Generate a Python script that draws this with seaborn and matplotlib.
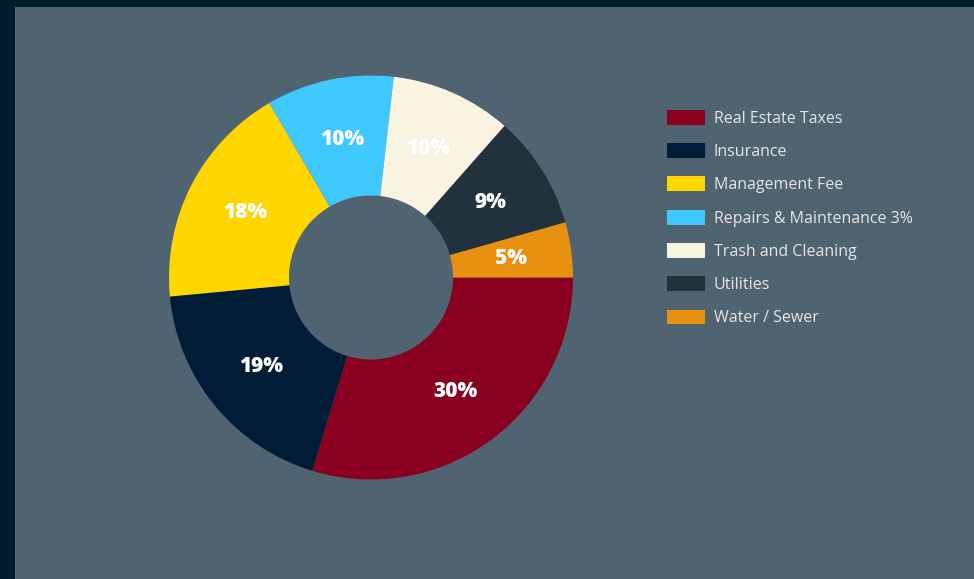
import matplotlib
matplotlib.use("Agg")
import matplotlib.pyplot as plt
import seaborn as sns
import numpy as np
from matplotlib.patches import Rectangle

categories = ["Real Estate Taxes", "Insurance", "Management Fee",
              "Repairs & Maintenance 3%", "Trash and Cleaning", "Utilities", "Water / Sewer"]
values = [29.7, 18.8, 18.1, 10.2, 9.7, 9.1, 4.4]
pct_labels = ["30%", "19%", "18%", "10%", "10%", "9%", "5%"]
colors = ["#8a0020", "#011c37", "#ffd600", "#3ec8fb", "#f9f3e1", "#22323c", "#e8900f"]

sns.set_style("white")
plt.rcParams['font.family'] = ['Open Sans', 'DejaVu Sans']

W, H = 974, 579
fig = plt.figure(figsize=(W / 100, H / 100), dpi=100)
fig.patch.set_facecolor("#031c2b")
fig.add_artist(Rectangle((15 / W, 0), 1 - 15 / W, 1 - 7 / H, transform=fig.transFigure,
                         facecolor="#506370", edgecolor="none", zorder=0))

cx, cy, r = 371, 277.5, 202
ax = fig.add_axes([(cx - r) / W, (H - cy - r) / H, 2 * r / W, 2 * r / H])
ax.set_facecolor("none")
palette = sns.color_palette(colors)
wedges, _ = ax.pie(values, colors=palette, startangle=0, counterclock=False,
                   radius=1, wedgeprops=dict(width=120 / 202, edgecolor="none"))
for w, lab in zip(wedges, pct_labels):
    mid = np.deg2rad((w.theta1 + w.theta2) / 2)
    ax.text(0.70 * np.cos(mid), 0.70 * np.sin(mid), lab, ha="center", va="center",
            color="white", fontsize=15, fontweight="heavy", family=['Open Sans', 'DejaVu Sans'])
ax.set_xlim(-1, 1)
ax.set_ylim(-1, 1)
ax.set_aspect("equal")
ax.axis("off")

leg = fig.legend(wedges, categories, loc="upper left",
                 bbox_to_anchor=(654 / W, 1 - 97 / H), frameon=False,
                 prop=dict(family="Open Sans", size=11.5), labelcolor="#e6e6e6",
                 handlelength=2.4, handleheight=1.05, handletextpad=0.55,
                 labelspacing=1.03, borderpad=0.3)

fig.savefig("out.png", dpi=100, facecolor=fig.get_facecolor())
